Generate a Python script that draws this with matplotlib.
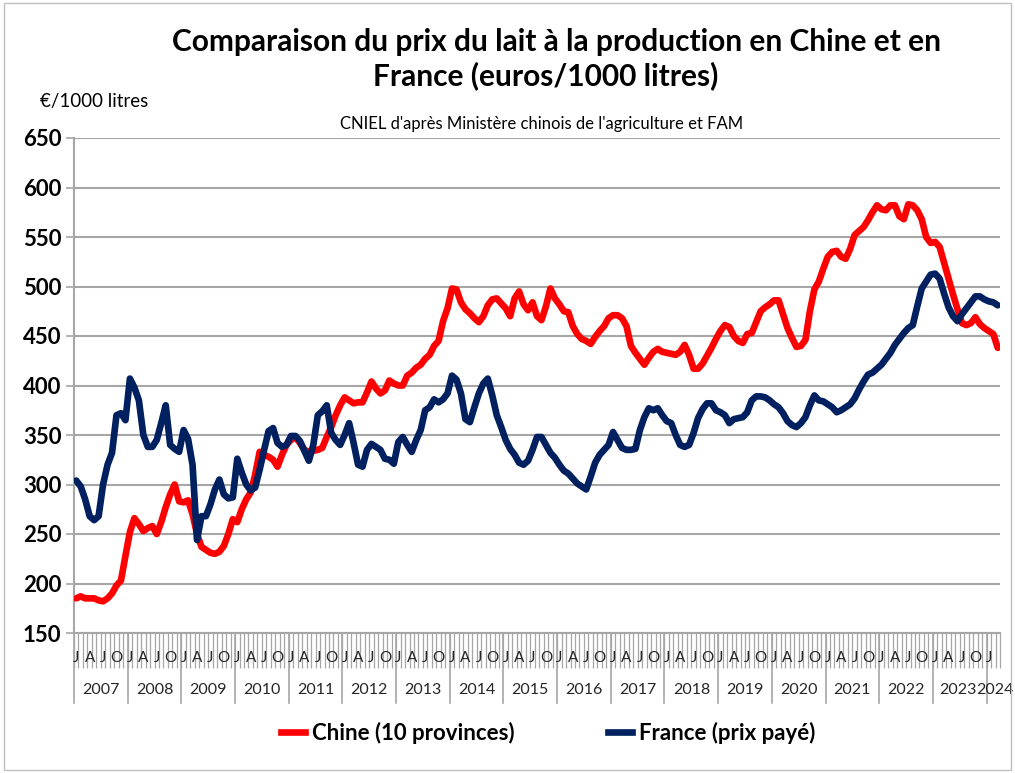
import numpy as np
import matplotlib
matplotlib.use("Agg")
import matplotlib.pyplot as plt
from matplotlib.lines import Line2D

plt.rcParams['font.family'] = ['Lato', 'DejaVu Sans']

# monthly data, Jan 2007 -> Mar 2024 (euros / 1000 litres)
years = [str(y) for y in range(2007, 2025)]
month_letters = ['J', 'A', 'J', 'O']

chine = [
    185, 187, 185, 185, 185, 183, 182, 185, 190, 198, 203, 228,   # 2007
    252, 266, 260, 253, 256, 258, 250, 262, 277, 290, 300, 283,   # 2008
    282, 284, 270, 250, 237, 234, 231, 230, 232, 238, 250, 265,   # 2009
    262, 275, 285, 292, 310, 333, 330, 328, 325, 318, 330, 340,   # 2010
    345, 348, 342, 335, 333, 334, 335, 337, 348, 358, 370, 380,   # 2011
    388, 385, 382, 383, 383, 393, 404, 397, 392, 395, 405, 402,   # 2012
    400, 400, 410, 413, 418, 421, 427, 431, 440, 445, 465, 478,   # 2013
    498, 497, 484, 477, 473, 468, 464, 470, 481, 487, 488, 483,   # 2014
    478, 470, 488, 495, 482, 476, 484, 470, 466, 480, 498, 488,   # 2015
    482, 475, 474, 460, 452, 447, 445, 442, 449, 455, 460, 468,   # 2016
    471, 471, 468, 460, 440, 433, 427, 421, 428, 434, 437, 434,   # 2017
    433, 432, 431, 434, 441, 431, 417, 417, 422, 430, 438, 447,   # 2018
    455, 461, 459, 450, 445, 443, 452, 453, 464, 475, 479, 482,   # 2019
    486, 486, 472, 458, 448, 439, 440, 446, 475, 497, 505, 518,   # 2020
    530, 535, 536, 530, 528, 538, 552, 556, 560, 567, 575, 582,   # 2021
    578, 577, 582, 582, 571, 568, 583, 582, 577, 568, 550, 544,   # 2022
    545, 540, 524, 508, 492, 477, 463, 461, 463, 469, 462, 458,   # 2023
    455, 452, 438,                                                # 2024
]

france = [
    304, 298, 285, 268, 264, 268, 300, 320, 332, 370, 372, 365,   # 2007
    407, 398, 385, 350, 338, 338, 345, 362, 380, 340, 336, 333,   # 2008
    355, 346, 320, 244, 268, 268, 280, 295, 305, 290, 286, 287,   # 2009
    326, 312, 300, 294, 297, 315, 335, 354, 357, 342, 338, 340,   # 2010
    349, 349, 344, 334, 324, 340, 370, 374, 380, 352, 345, 340,   # 2011
    350, 362, 342, 320, 318, 335, 341, 338, 335, 326, 325, 321,   # 2012
    343, 348, 340, 333, 345, 355, 375, 378, 386, 383, 386, 392,   # 2013
    410, 406, 392, 366, 363, 378, 392, 402, 407, 390, 370, 358,   # 2014
    345, 336, 330, 322, 320, 324, 335, 348, 348, 340, 332, 327,   # 2015
    320, 314, 311, 306, 301, 298, 295, 308, 322, 330, 335, 340,   # 2016
    353, 345, 337, 335, 335, 336, 355, 368, 377, 375, 377, 370,   # 2017
    364, 362, 350, 340, 338, 340, 352, 367, 376, 382, 382, 375,   # 2018
    373, 370, 362, 366, 367, 368, 373, 385, 389, 389, 388, 385,   # 2019
    381, 378, 372, 364, 360, 358, 362, 368, 380, 390, 385, 384,   # 2020
    381, 378, 373, 375, 378, 381, 387, 396, 404, 411, 413, 417,   # 2021
    421, 427, 433, 441, 447, 453, 458, 461, 480, 498, 505, 512,   # 2022
    513, 508, 493, 479, 470, 465, 472, 478, 484, 490, 490, 487,   # 2023
    485, 484, 481,                                                # 2024
]

n = len(chine)
x = np.arange(n) + 0.5
grey = '#A6A6A6'

fig = plt.figure(figsize=(10.15, 7.73), dpi=100)
ax = fig.add_axes([74 / 1015, 140 / 773, 926 / 1015, 495 / 773])

ax.plot(x, chine, color='#FF0000', lw=4.8, solid_joinstyle='round', solid_capstyle='round', zorder=3)
ax.plot(x, france, color='#002060', lw=4.8, solid_joinstyle='round', solid_capstyle='round', zorder=4)

ax.set_xlim(0, n)
ax.set_ylim(150, 650)
ax.set_yticks(np.arange(150, 651, 50))
ax.grid(axis='y', color=grey, lw=1.5)
ax.set_axisbelow(True)
for s in ['top', 'right']:
    ax.spines[s].set_visible(False)
for s in ['left', 'bottom']:
    ax.spines[s].set_color(grey)
    ax.spines[s].set_linewidth(1.5)
ax.tick_params(axis='y', length=6, color=grey, width=1.2, labelsize=16, pad=3)
for lab in ax.get_yticklabels():
    lab.set_fontweight('bold')

# month ticks
ax.set_xticks(np.arange(0, n + 1), minor=True)
ax.set_xticks([])
ax.tick_params(axis='x', which='minor', length=25, color=grey, width=0.9, direction='out')

trans = ax.get_xaxis_transform()
for i in range(0, n, 3):
    ax.text(i + 0.5, -0.05, month_letters[(i % 12) // 3], transform=trans,
            ha='center', va='center', fontsize=11, color='#262626')
for k, yr in enumerate(years):
    start = k * 12
    end = min(start + 12, n)
    ax.plot([start, start], [0, -0.142], transform=trans, color=grey, lw=1.2, clip_on=False)
    xc = (start + end) / 2
    if yr == '2023':
        xc -= 0.5
    elif yr == '2024':
        xc += 0.4
    ax.text(xc, -0.115, yr, transform=trans, ha='center', va='center',
            fontsize=11.5, color='#262626')

# titles
fig.text(556 / 1015, 1 - 42 / 773, "Comparaison du prix du lait à la production en Chine et en",
         ha='center', va='center', fontsize=21.5, fontweight='bold')
fig.text(546 / 1015, 1 - 76 / 773, "France (euros/1000 litres)",
         ha='center', va='center', fontsize=21.5, fontweight='bold')
fig.text(40 / 1015, 1 - 101 / 773, "€/1000 litres", ha='left', va='center', fontsize=13.5)
fig.text(542 / 1015, 1 - 124 / 773, "CNIEL d'après Ministère chinois de l'agriculture et FAM",
         ha='center', va='center', fontsize=12)

handles = [Line2D([], [], color='#FF0000', lw=4.8), Line2D([], [], color='#002060', lw=4.8)]
fig.legend(handles, ['Chine (10 provinces)', 'France (prix payé)'], loc='center',
           bbox_to_anchor=(548 / 1015, 1 - 733 / 773), ncol=2, frameon=False,
           prop={'weight': 'bold', 'size': 16}, handlelength=1.1, handletextpad=0.3,
           columnspacing=4.2)

fig.patches.append(plt.Rectangle((0.004, 0.004), 0.992, 0.992, transform=fig.transFigure,
                                 fill=False, edgecolor='#BFBFBF', lw=1))

fig.savefig('out.png', dpi=100)
